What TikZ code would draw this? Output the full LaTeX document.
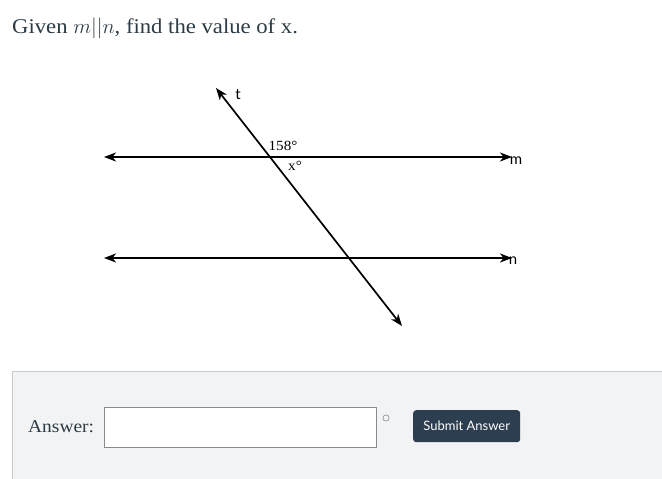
\documentclass[tikz,border=0pt]{standalone}
\usepackage{fontspec}
\setmainfont{Liberation Serif}[FakeStretch=1.08]
\newfontfamily\latofont{Lato}
\usetikzlibrary{arrows.meta}
\definecolor{inktext}{HTML}{2D3B45}
\definecolor{panelfill}{HTML}{F2F3F4}
\definecolor{panelline}{HTML}{C7CBCE}
\definecolor{boxline}{HTML}{8A8A8A}
\definecolor{btnblue}{HTML}{2C3E50}
\begin{document}
\begin{tikzpicture}[x=1pt,y=-1pt,
  geoline/.style={line width=1.7pt,{Stealth[length=12pt,width=9pt,inset=3.5pt]}-{Stealth[length=12pt,width=9pt,inset=3.5pt]}},
  linelabel/.style={font=\latofont\fontsize{15}{17}\selectfont},
  anglelabel/.style={font=\fontsize{14}{16}\selectfont,inner sep=0pt}]
\useasboundingbox (0,0) rectangle (662,479);
% question
\node[anchor=base west,inner sep=0pt,text=inktext,font=\fontsize{21}{25}\selectfont] (title) at (12,33) {Given $m||n$, find the value of x.};
% lines
\coordinate (mL) at (104,157);
\coordinate (mR) at (512,157);
\coordinate (nL) at (104,258);
\coordinate (nR) at (512,258);
\coordinate (tT) at (216,88);
\coordinate (tB) at (402,326);
\draw[geoline] (mL) -- (mR);
\draw[geoline] (nL) -- (nR);
\draw[geoline] (tT) -- (tB);
\node[linelabel] (m) at (516,161) {m};
\node[linelabel] (n) at (513,261) {n};
\node[linelabel] (t) at (238,95) {t};
\node[anglelabel] (obtuse) at (283,146) {158\textdegree};
\node[anglelabel] (xangle) at (295,166) {x\textdegree};
% answer panel
\draw[fill=panelfill,draw=panelline] (12,371) rectangle (680,490);
\node[anchor=base west,inner sep=0pt,text=inktext,font=\fontsize{18}{22}\selectfont] (answer) at (28,432) {Answer:};
\node[anchor=north west,draw=boxline,fill=white,inner sep=0pt,minimum width=272pt,minimum height=40pt] (box) at (104,407) {};
\node[circle,draw=boxline,line width=0.6pt,inner sep=2.2pt] (deg) at (386,418) {};
\node[anchor=north west,fill=btnblue,rounded corners=3pt,text=white,inner sep=0pt,minimum width=107pt,minimum height=32pt,font=\latofont\fontsize{13}{15}\selectfont] (submit) at (413,410) {Submit Answer};
\end{tikzpicture}
\end{document}
